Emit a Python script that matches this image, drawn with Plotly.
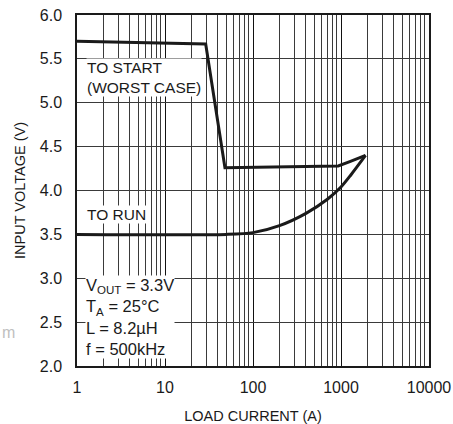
# -*- coding: utf-8 -*-
import plotly.graph_objs as go

#####################################################################
# DATA
#####################################################################
start_current = [1, 29, 48, 930, 1260, 1900]
start_voltage = [5.70, 5.67, 4.26, 4.28, 4.33, 4.40]

run_current = [1, 50, 100, 200, 400, 700, 1000, 1300, 1900]
run_voltage = [3.50, 3.50, 3.52, 3.60, 3.74, 3.90, 4.04, 4.18, 4.40]

x_ticks = [1, 10, 100, 1000, 10000]
x_minor = [m * d for d in [1, 10, 100, 1000] for m in range(2, 10)]
y_ticks = [2.0, 2.5, 3.0, 3.5, 4.0, 4.5, 5.0, 5.5, 6.0]

FONT = 'Liberation Sans Narrow, Arial Narrow, Liberation Sans, sans-serif'
GRID = '#3a3a3a'

#####################################################################
# GRAPH
#####################################################################
fig = go.Figure()

fig.add_trace(go.Scatter(
    x=start_current, y=start_voltage, mode='lines',
    line=dict(color='#1a1a1a', width=3), showlegend=False))
fig.add_trace(go.Scatter(
    x=run_current, y=run_voltage, mode='lines',
    line=dict(color='#1a1a1a', width=3, shape='spline', smoothing=0.8),
    showlegend=False))

label_font = dict(family=FONT, size=15.5, color='#1a1a1a')

fig.add_annotation(
    xref='paper', yref='paper', x=0.025, y=0.877, xanchor='left', yanchor='top',
    text='TO START<br>(WORST CASE)', align='left', showarrow=False,
    bgcolor='white', borderpad=0, font=label_font)
fig.add_annotation(
    xref='paper', yref='paper', x=0.025, y=0.46, xanchor='left', yanchor='top',
    text='TO RUN', align='left', showarrow=False,
    bgcolor='white', borderpad=0, font=label_font)
fig.add_annotation(
    xref='paper', yref='paper', x=0.022, y=0.26, xanchor='left', yanchor='top',
    text='V<sub>OUT</sub> = 3.3V<br>T<sub>A</sub> = 25°C<br>L = 8.2µH<br>f = 500kHz',
    align='left', showarrow=False, bgcolor='white', borderpad=0,
    font=dict(family=FONT, size=16.5, color='#1a1a1a'))
fig.add_annotation(
    xref='paper', yref='paper', x=-0.219, y=0.095, xanchor='left', yanchor='middle',
    text='m', showarrow=False, font=dict(family=FONT, size=16, color='#c0c0c0'))

fig.update_layout(
    width=453, height=424,
    margin=dict(l=77, r=24, t=15, b=58),
    plot_bgcolor='white', paper_bgcolor='white',
    font=dict(family=FONT, size=16, color='#1a1a1a'),
    xaxis=dict(
        type='log', range=[0, 4], tickvals=x_ticks,
        ticktext=[str(v) for v in x_ticks],
        showgrid=True, gridcolor='#111', gridwidth=1,
        minor=dict(tickvals=x_minor, showgrid=True, gridcolor=GRID, gridwidth=1),
        showline=True, linecolor='#1a1a1a', linewidth=1.5, mirror=True,
        ticks='', ticklabelstandoff=6, ticklabeloverflow='allow',
        zeroline=False, automargin=False,
        title=dict(text='LOAD CURRENT (A)', standoff=17,
                   font=dict(family=FONT, size=14.5))),
    yaxis=dict(
        range=[2.0, 6.0], tickvals=y_ticks,
        ticktext=['%.1f' % v for v in y_ticks],
        showgrid=True, gridcolor=GRID, gridwidth=1,
        showline=True, linecolor='#1a1a1a', linewidth=1.5, mirror=True,
        ticks='', ticklabelstandoff=10, ticklabeloverflow='allow',
        zeroline=False, automargin=False,
        title=dict(text='INPUT VOLTAGE (V)', standoff=11,
                   font=dict(family=FONT, size=14.5))))

# drop the default 8px page margin so the figure sits at the window corner
fig.write_html('out.html', config={'displayModeBar': False},
               post_script="document.body.style.margin='0';")
